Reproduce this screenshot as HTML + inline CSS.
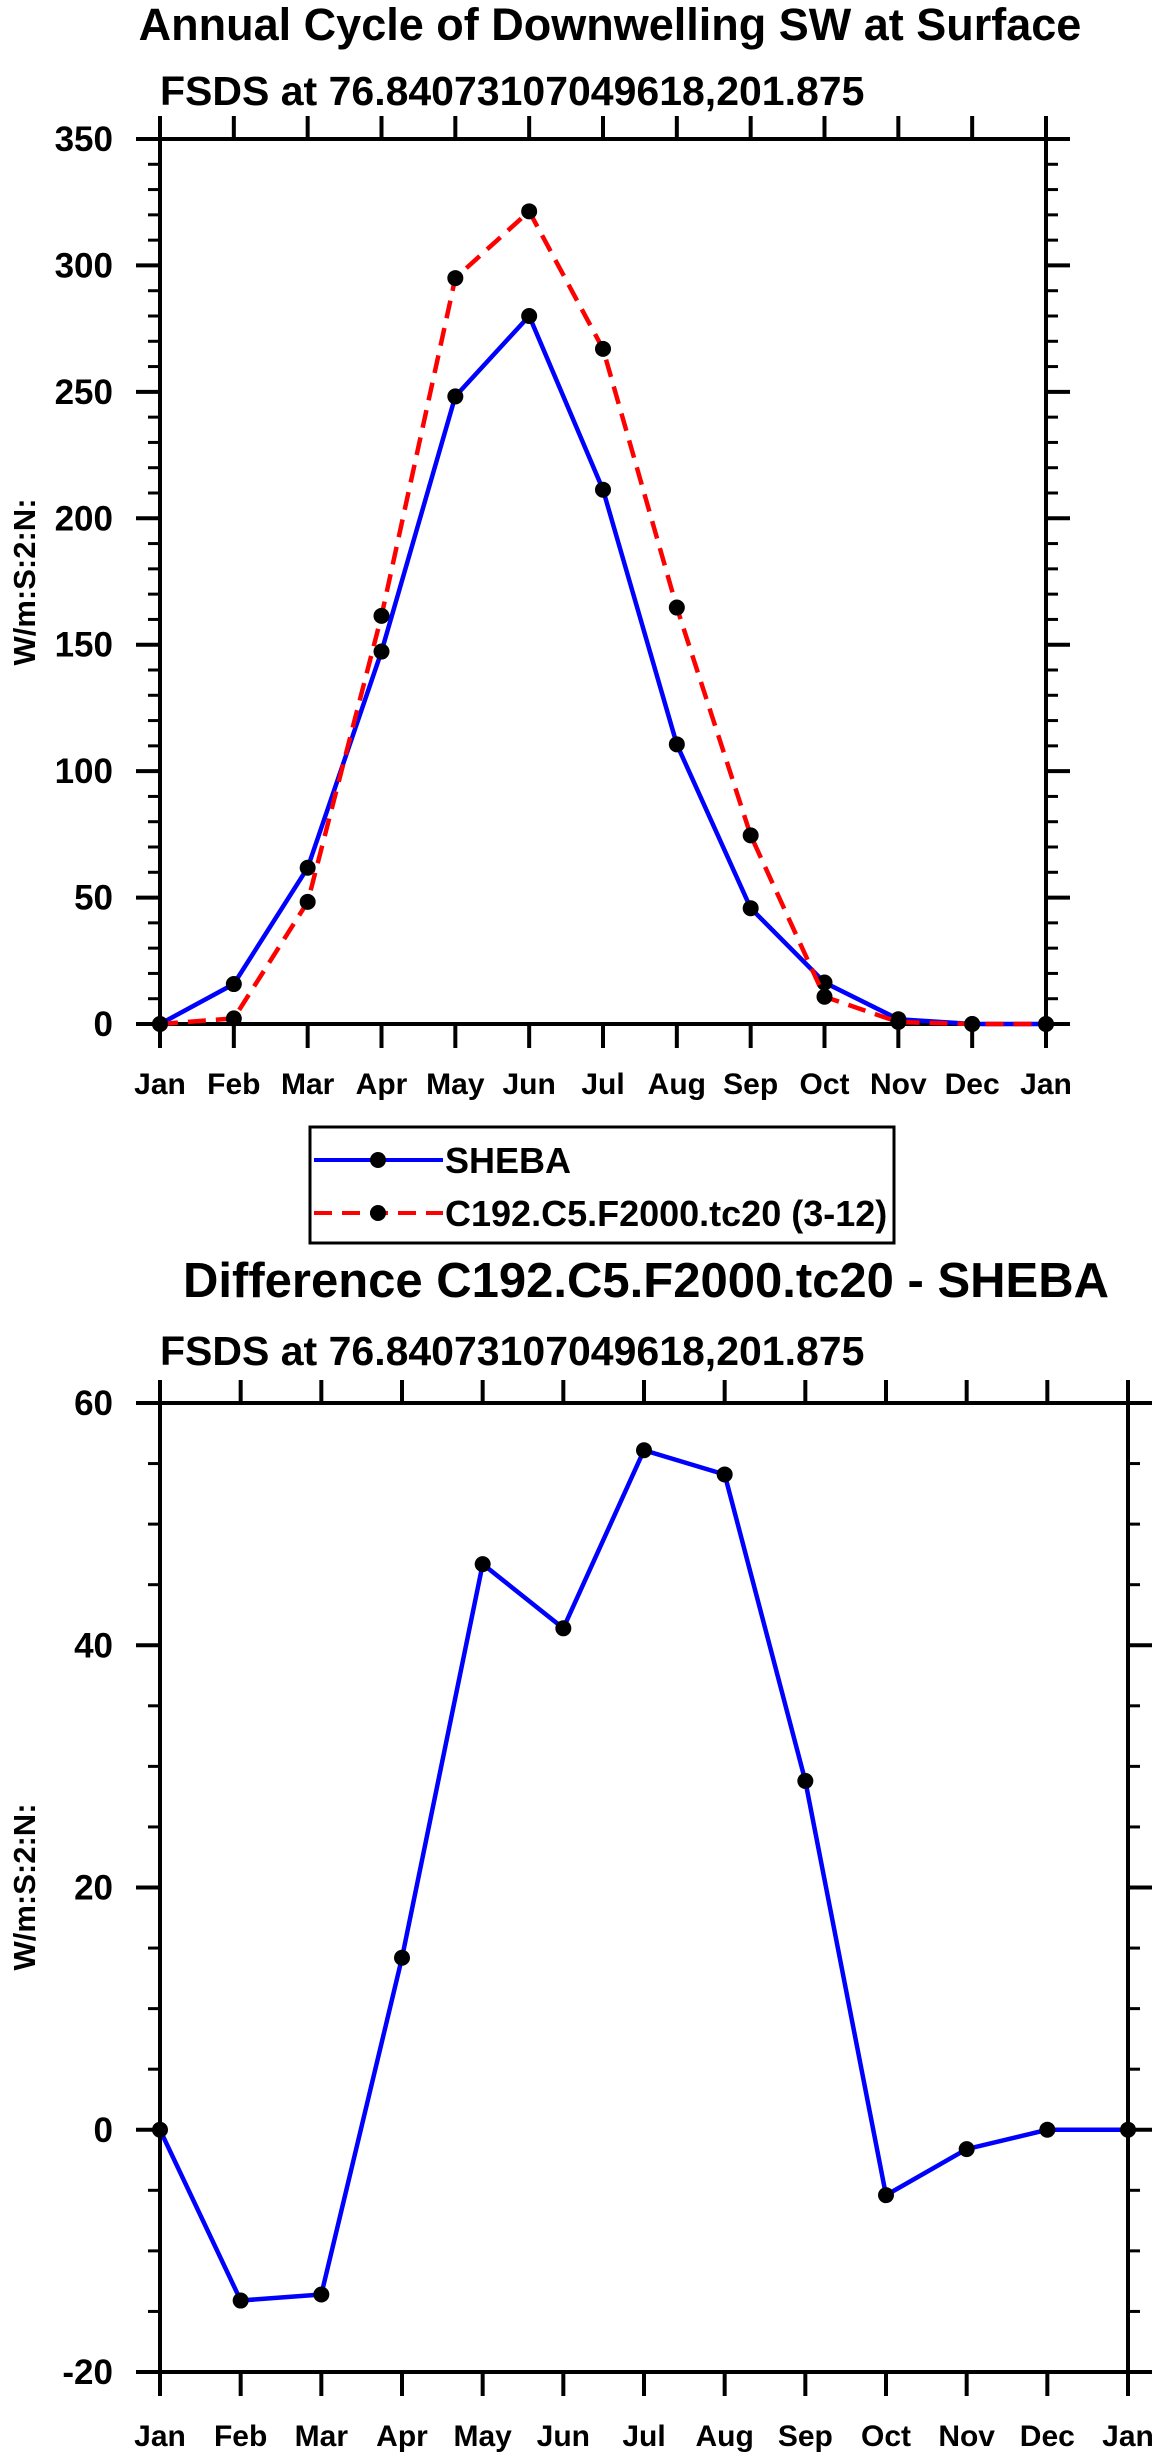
<!DOCTYPE html>
<html><head><meta charset="utf-8"><style>
html,body{margin:0;padding:0;background:#fff}
svg{display:block;font-family:"Liberation Sans",Arial,sans-serif;font-weight:bold}
</style></head><body>
<svg id="s" width="1161" height="2459" viewBox="0 0 1161 2459" xmlns="http://www.w3.org/2000/svg">
<text x="610" y="40" font-size="45" text-anchor="middle">Annual Cycle of Downwelling SW at Surface</text>
<text x="160" y="105" font-size="41">FSDS at 76.84073107049618,201.875</text>
<text transform="translate(35,582) rotate(-90)" font-size="31" text-anchor="middle">W/m:S:2:N:</text>
<g id="top"></g>
<g>
<rect x="310" y="1127" width="584" height="116" fill="#fff" stroke="#000" stroke-width="3"/>
<g>
<line x1="314" y1="1160" x2="443" y2="1160" stroke="#0000ff" stroke-width="4"/>
<circle cx="378" cy="1160" r="8"/>
<text x="445" y="1173" font-size="36">SHEBA</text></g>
<g>
<line x1="314" y1="1213" x2="443" y2="1213" stroke="#ff0000" stroke-width="4" stroke-dasharray="18,10"/>
<circle cx="378" cy="1213" r="8"/>
<text x="445" y="1226" font-size="36">C192.C5.F2000.tc20 (3-12)</text></g>
</g>
<text x="646" y="1297" font-size="49" text-anchor="middle">Difference C192.C5.F2000.tc20 - SHEBA</text>
<text x="160" y="1365" font-size="41">FSDS at 76.84073107049618,201.875</text>
<text transform="translate(35,1887) rotate(-90)" font-size="31" text-anchor="middle">W/m:S:2:N:</text>
<g id="bot"></g>
</svg>
<script>
const months = ["Jan","Feb","Mar","Apr","May","Jun","Jul","Aug","Sep","Oct","Nov","Dec","Jan"];
const shebaValues = [0, 15.8, 61.8, 147.3, 248.2, 280, 211.3, 110.6, 45.8, 16.4, 1.9, 0, 0];
const modelValues = [0, 2.2, 48.3, 161.4, 295, 321.4, 267, 164.7, 74.6, 10.8, 0.8, 0, 0];
const diffValues = [0, -14.1, -13.6, 14.2, 46.7, 41.4, 56.1, 54.1, 28.8, -5.4, -1.6, 0, 0];
const topYTicks = [0, 50, 100, 150, 200, 250, 300, 350];
const diffYTicks = [-20, 0, 20, 40, 60];

const NS = "http://www.w3.org/2000/svg";
function mk(parent, tag, attrs) {
  const e = document.createElementNS(NS, tag);
  for (const k in attrs) e.setAttribute(k, attrs[k]);
  parent.appendChild(e);
  return e;
}
function chart(g, L, R, T, B, ymin, ymax, yticks, minorStep, labelBase, series) {
  const x = i => L + (R - L) * i / (months.length - 1);
  const y = v => B - (B - T) * (v - ymin) / (ymax - ymin);
  for (let v = ymin; v <= ymax + 1e-9; v += minorStep) {
    const yy = y(v);
    const t1 = mk(g, "line", {x1: L - 12, y1: yy, x2: L, y2: yy, stroke: "#000", "stroke-width": 3});
    
    
    const t2 = mk(g, "line", {x1: R, y1: yy, x2: R + 12, y2: yy, stroke: "#000", "stroke-width": 3});
    
    
  }
  yticks.forEach(v => {
    const yy = y(v);
    const a = mk(g, "line", {x1: L - 24, y1: yy, x2: L, y2: yy, stroke: "#000", "stroke-width": 4});
    
    
    const b = mk(g, "line", {x1: R, y1: yy, x2: R + 24, y2: yy, stroke: "#000", "stroke-width": 4});
    
    
    const t = mk(g, "text", {x: L - 47, y: yy + 12, "font-size": 35, "text-anchor": "end"});
    t.textContent = String(v);
    
    
  });
  months.forEach((m, i) => {
    const xx = x(i);
    const a = mk(g, "line", {x1: xx, y1: T - 23, x2: xx, y2: T, stroke: "#000", "stroke-width": 4});
    
    
    const b = mk(g, "line", {x1: xx, y1: B, x2: xx, y2: B + 24, stroke: "#000", "stroke-width": 4});
    
    
    const t = mk(g, "text", {x: xx, y: labelBase, "font-size": 30, "text-anchor": "middle"});
    t.textContent = m;
    
    
  });
  const fr = mk(g, "rect", {x: L, y: T, width: R - L, height: B - T, fill: "none", stroke: "#000", "stroke-width": 4});
  
  
  series.forEach(s => {
    const pts = s.vals.map((v, i) => x(i).toFixed(1) + "," + y(v).toFixed(1)).join(" ");
    const pl = mk(g, "polyline", {points: pts, fill: "none", stroke: s.color, "stroke-width": 4.5, "stroke-dasharray": s.dash || "none"});
    
    
    s.vals.forEach((v, i) => {
      const c = mk(g, "circle", {cx: x(i), cy: y(v), r: 8, fill: "#000"});
      
      
    });
  });
}
chart(document.getElementById("top"), 160, 1046, 139, 1024, 0, 350, topYTicks, 10, 1094,
  [{name: "sheba", vals: shebaValues, color: "#0000ff"},
   {name: "model", vals: modelValues, color: "#ff0000", dash: "18,10"}]);
chart(document.getElementById("bot"), 160, 1128, 1403, 2372, -20, 60, diffYTicks, 5, 2446,
  [{name: "difference", vals: diffValues, color: "#0000ff"}]);
</script>
</body></html>
